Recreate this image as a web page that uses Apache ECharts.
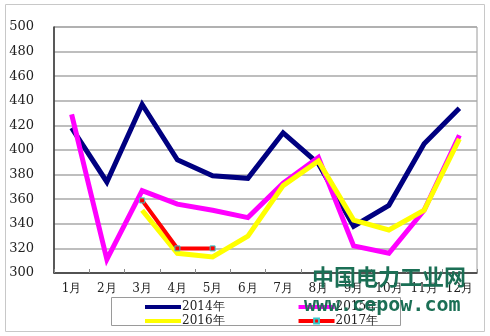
<!DOCTYPE html>
<html><head><meta charset="utf-8">
<script src="https://cdn.jsdelivr.net/npm/echarts@6/dist/echarts.min.js"></script>
<style>html,body{margin:0;padding:0;background:#fff}#c{width:490px;height:336px}</style>
</head><body><div id="c"></div>
<script>
const categories = ['1月','2月','3月','4月','5月','6月','7月','8月','9月','10月','11月','12月'];
const s2014 = [418, 374, 437, 392, 379, 377, 414, 389, 338, 355, 405, 434];
const s2015 = [429, 311, 367, 356, 351, 345, 373, 394, 322, 316, 351, 412];
const s2016 = [null, null, 351, 316, 313, 330, 371, 391, 343, 335, 351, 409];
const s2017 = [null, null, 359, 320, 320, null, null, null, null, null, null, null];
const seriesNames = ['2014年','2015年','2016年','2017年'];
const yTicks = [300, 320, 340, 360, 380, 400, 420, 440, 460, 480, 500];

const font = '"DejaVu Serif","Liberation Serif",serif';
const chart = echarts.init(document.getElementById('c'), null, {renderer:'canvas'});
function line(name, data, color, w, extra) {
  return Object.assign({
    name, type:'line', data, showSymbol:false, symbol:'none', connectNulls:false,
    lineStyle:{color, width:w, join:'miter'}, itemStyle:{color}, animation:false, z: 2
  }, extra || {});
}
const legendCommon = {left:143, itemWidth:36, itemHeight:6, itemGap:72, padding:0,
  itemStyle:{opacity:0}, lineStyle:{width:4},
  textStyle:{fontFamily:font, fontSize:12, color:'#222', padding:[0,0,0,-4]}};
chart.setOption({
  animation:false,
  grid:{left:54, right:13, top:27, bottom:63, show:true, borderColor:'#9a9a9a', borderWidth:1},
  graphic:[
    {type:'rect', shape:{x:5.5, y:4.5, width:479, height:327}, style:{fill:'none', stroke:'#c8c8c8', lineWidth:1}, z:0},
    {type:'rect', shape:{x:111.5, y:297.5, width:289, height:28}, style:{fill:'#fff', stroke:'#9a9a9a', lineWidth:1}, z:0},
    {type:'text', left:312, top:266, z:100, style:{text:'中国电力工业网', fill:'#1b6f55', font:'bold 22px "Noto Sans CJK SC", sans-serif'}},
    {type:'text', left:304, top:296, z:100, style:{text:'www.cepow.com', fill:'#1b6f55', font:'bold 20px "DejaVu Sans Mono", monospace'}}
  ],
  xAxis:{type:'category', data:categories, boundaryGap:true,
    axisLine:{lineStyle:{color:'#333', width:1.5}},
    axisTick:{show:true, inside:true, length:4, lineStyle:{color:'#888'}},
    axisLabel:{interval:0, color:'#222', fontFamily:font, fontSize:12, margin:10}},
  yAxis:{type:'value', min:yTicks[0], max:yTicks[yTicks.length-1], interval:20,
    axisLine:{show:true, lineStyle:{color:'#333', width:1.5}},
    axisTick:{show:false},
    splitLine:{lineStyle:{color:'#a8a8a8', width:1.5}},
    axisLabel:{color:'#222', fontFamily:font, fontSize:13, margin:20}},
  legend:[
    Object.assign({}, legendCommon, {top:301, data:[seriesNames[0], seriesNames[1]]}),
    Object.assign({}, legendCommon, {top:315, data:[seriesNames[2], {name:seriesNames[3], itemStyle:{opacity:1}}]})
  ],
  series:[
    line(seriesNames[0], s2014, '#000080', 5),
    line(seriesNames[1], s2015, '#ff00ff', 5),
    line(seriesNames[2], s2016, '#ffff00', 5),
    line(seriesNames[3], s2017, '#ff0000', 4, {showSymbol:true, symbol:'rect', symbolSize:5,
      itemStyle:{color:'#ff0000', borderColor:'#33cccc', borderWidth:1}, z:3})
  ]
});
</script></body></html>
